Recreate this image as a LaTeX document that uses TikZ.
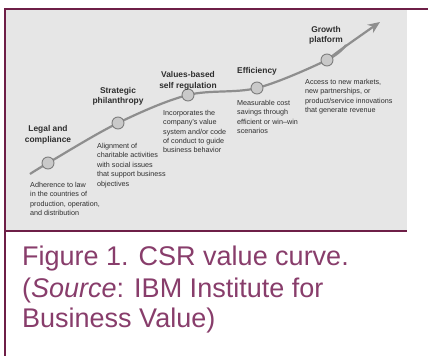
\documentclass[tikz,border=0pt]{standalone}
\usepackage{fontspec}
\setmainfont{Liberation Sans}
\usetikzlibrary{arrows.meta}
\definecolor{panelgray}{HTML}{E6E6E6}
\definecolor{curvegray}{HTML}{8E8E8E}
\definecolor{dotfill}{HTML}{C9C9C9}
\definecolor{dotdraw}{HTML}{7E7E7E}
\definecolor{maroonline}{HTML}{6E1F47}
\definecolor{captioncol}{HTML}{883D6B}
\definecolor{txtgray}{HTML}{2E2E2E}
\tikzset{
  dot/.style={circle,draw=dotdraw,fill=dotfill,line width=0.9pt,minimum size=12pt,inner sep=0pt},
  stage/.style={font=\fontsize{8.4}{10.4}\selectfont\bfseries,text=txtgray,align=center,inner sep=0pt},
  desc/.style={font=\fontsize{7.2}{9.4}\selectfont,text=txtgray,align=left,inner sep=0pt,anchor=west},
  caption/.style={font=\fontsize{27}{30}\selectfont,text=captioncol,inner sep=0pt,anchor=base west},
  frame/.style={maroonline,line width=2pt}
}
\begin{document}
\begin{tikzpicture}[x=1pt,y=-1pt]
\useasboundingbox (0,0) rectangle (428,356);
\fill[white] (0,0) rectangle (428,356);
\fill[panelgray] (6,10) rectangle (407,230);
\draw[frame] (5,9) -- (428,9);
\draw[frame] (5,8) -- (5,356);
\draw[frame] (5,231) -- (407,231);
% curve
\coordinate (start) at (30,174);
\coordinate (p1) at (48,163);
\coordinate (p2) at (118,123);
\coordinate (p3) at (188,95);
\coordinate (p4) at (257,88);
\coordinate (p5) at (327,60);
\coordinate (tip) at (380,22);
\draw[curvegray,line width=2.2pt] plot[smooth,tension=0.55] coordinates {(start) (p1) (p2) (p3) (p4) (p5) (346,45)};
\draw[curvegray,line width=2.2pt,-{Stealth[length=12pt,width=10pt]}] (p5) .. controls (340,50) and (350,43) .. (tip);
\node[dot] (d1) at (p1) {};
\node[dot] (d2) at (p2) {};
\node[dot] (d3) at (p3) {};
\node[dot] (d4) at (p4) {};
\node[dot] (d5) at (p5) {};
% labels
\node[stage] (l1) at (48,135) {Legal and\\compliance};
\node[stage] (l2) at (118,96.5) {Strategic\\philanthropy};
\node[stage] (l3) at (188,81) {Values-based\\self regulation};
\node[stage] (l4) at (257,71) {Efficiency};
\node[stage] (l5) at (326,35.5) {Growth\\platform};
\node[desc] (t1) at (30,199) {Adherence to law\\in the countries of\\production, operation,\\and distribution};
\node[desc] (t2) at (97,165.5) {Alignment of\\charitable activities\\with social issues\\that support business\\objectives};
\node[desc] (t3) at (163,131.5) {Incorporates the\\company's value\\system and/or code\\of conduct to guide\\business behavior};
\node[desc] (t4) at (237,117) {Measurable cost\\savings through\\efficient or win–win\\scenarios};
\node[desc] (t5) at (305,96.5) {Access to new markets,\\new partnerships, or\\product/service innovations\\that generate revenue};
% caption
\node[caption] (c1) at (22,265) {Figure 1. CSR value curve.};
\node[caption] (c2) at (22,297) {(\textit{Source}: IBM Institute for};
\node[caption] (c3) at (22,327) {Business Value)};
\end{tikzpicture}
\end{document}
